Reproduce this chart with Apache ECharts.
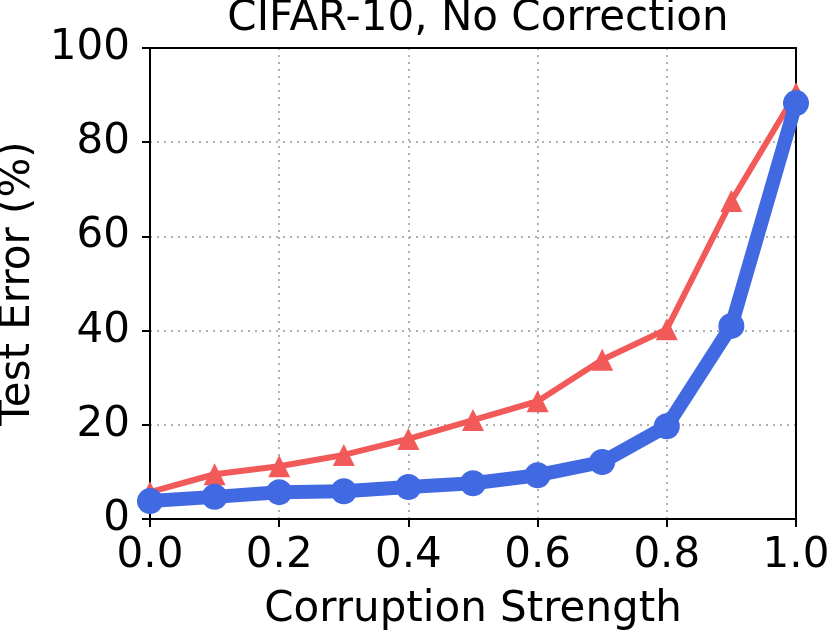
<!DOCTYPE html>
<html>
<head>
<meta charset="utf-8">
<script src="https://cdn.jsdelivr.net/npm/echarts@6/dist/echarts.min.js"></script>
<style>html,body{margin:0;padding:0;background:#fff}#c{width:829px;height:630px}</style>
</head>
<body>
<div id="c"></div>
<script>
const strength = [0.0, 0.1, 0.2, 0.3, 0.4, 0.5, 0.6, 0.7, 0.8, 0.9, 1.0];
const redErr  = [5.7, 9.5, 11.2, 13.6, 17.0, 21.0, 25.0, 33.8, 40.3, 67.5, 90.4];
const blueErr = [3.8, 4.7, 5.7, 5.9, 6.8, 7.6, 9.3, 12.1, 19.7, 41.0, 88.3];
const titleText = 'CIFAR-10, No Correction';
const xName = 'Corruption Strength';
const yName = 'Test Error (%)';

const font = 'DejaVu Sans';
const fs = 42;
const chart = echarts.init(document.getElementById('c'), null, {renderer: 'canvas'});
const pair = (xs, ys) => xs.map((x, i) => [x, ys[i]]);
const grid = {left: 150, right: 33, top: 48, bottom: 111, outerBoundsMode: 'none', containLabel: false};
const split = {show: true, showMinLine: false, showMaxLine: false, lineStyle: {color: '#b0b0b0', width: 2, type: [2, 5]}};
chart.setOption({
  animation: false,
  title: {
    text: titleText, left: 473, top: -7, textAlign: 'center',
    textStyle: {fontFamily: font, fontSize: fs, fontWeight: 'normal', color: '#000'}
  },
  grid: grid,
  xAxis: [{
    type: 'value', min: 0, max: 1, interval: 0.2,
    name: xName, nameLocation: 'middle', nameGap: 70,
    nameTextStyle: {fontFamily: font, fontSize: fs, color: '#000'},
    axisLine: {show: true, onZero: false, lineStyle: {color: '#000', width: 2}},
    axisTick: {show: true, inside: false, length: 8, lineStyle: {color: '#000', width: 2}},
    axisLabel: {fontFamily: font, fontSize: fs, color: '#000', margin: 16, formatter: v => v.toFixed(1)},
    splitLine: split
  }, {
    type: 'value', min: 0, max: 1, position: 'top',
    axisLine: {show: true, onZero: false, lineStyle: {color: '#000', width: 2}},
    axisTick: {show: false}, axisLabel: {show: false}, splitLine: {show: false}
  }],
  yAxis: [{
    type: 'value', min: 0, max: 100, interval: 20,
    name: yName, nameLocation: 'middle', nameGap: 104,
    nameTextStyle: {fontFamily: font, fontSize: fs, color: '#000'},
    axisLine: {show: true, onZero: false, lineStyle: {color: '#000', width: 2}},
    axisTick: {show: true, inside: false, length: 8, lineStyle: {color: '#000', width: 2}},
    axisLabel: {fontFamily: font, fontSize: fs, color: '#000', margin: 20},
    splitLine: split
  }, {
    type: 'value', min: 0, max: 100, position: 'right',
    axisLine: {show: true, onZero: false, lineStyle: {color: '#000', width: 2}},
    axisTick: {show: false}, axisLabel: {show: false}, splitLine: {show: false}
  }],
  series: [
    {
      type: 'line', data: pair(strength, redErr), clip: true,
      symbol: 'triangle', symbolSize: 22, showAllSymbol: true,
      lineStyle: {color: '#F25A5A', width: 6},
      itemStyle: {color: '#F25A5A'}, z: 2
    },
    {
      type: 'line', data: pair(strength, blueErr), clip: true,
      symbol: 'circle', symbolSize: 26, showAllSymbol: true,
      lineStyle: {color: '#4169E1', width: 14},
      itemStyle: {color: '#4169E1'}, z: 3
    }
  ]
});
</script>
</body>
</html>
